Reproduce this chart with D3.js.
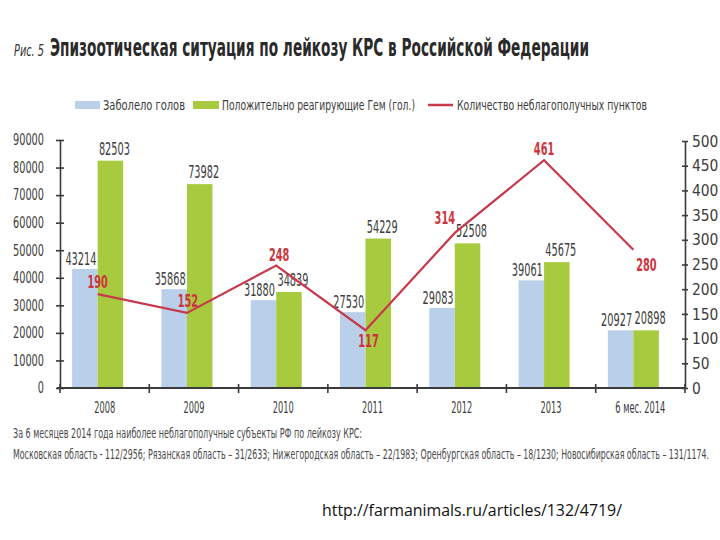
<!DOCTYPE html>
<html><head><meta charset="utf-8">
<script src="https://cdn.jsdelivr.net/npm/d3@7"></script>
<style>body{margin:0;background:#fff}svg{display:block}</style>
</head><body>
<script>
// ---- data ----
const categories = ["2008","2009","2010","2011","2012","2013","6 мес. 2014"];
const sick = [43214, 35868, 31880, 27530, 29083, 39061, 20927];
const positive = [82503, 73982, 34839, 54229, 52508, 45675, 20898];
const points = [190, 152, 248, 117, 314, 461, 280];
const leftTicks = [0,10000,20000,30000,40000,50000,60000,70000,80000,90000];
const rightTicks = [0,50,100,150,200,250,300,350,400,450,500];
const seriesNames = ["Заболело голов","Положительно реагирующие Гем (гол.)","Количество неблагополучных пунктов"];
const titlePrefix = "Рис. 5";
const titleText = "Эпизоотическая ситуация по лейкозу КРС в Российской Федерации";
const footer1 = "За 6 месяцев 2014 года наиболее неблагополучные субъекты РФ по лейкозу КРС:";
const footer2 = "Московская область - 112/2956; Рязанская область – 31/2633; Нижегородская область – 22/1983; Оренбургская область – 18/1230; Новосибирская область – 131/1174.";
const sourceUrl = "http://farmanimals.ru/articles/132/4719/";

// ---- layout (styling only) ----
const W = 720, H = 540;
const FONT = "'Liberation Sans Narrow','Arial Narrow','DejaVu Sans Condensed',sans-serif";
const BLUE = "#bad0ea", GREEN = "#a7ca3e", RED = "#c63a4c", RED_T = "#cc3440", AX = "#3a3a3a", TXT = "#3c3c3c";
const lineLabelOffsets = [[0,-6],[1,-6],[3,-4],[3,17],[-10,-9],[0,-5],[13,21]];

const svg = d3.select("body").append("svg").attr("width", W).attr("height", H)
  .style("font-family", FONT);

function fit(sel, w){ return sel.attr("textLength", w).attr("lengthAdjust","spacingAndGlyphs"); }

// title
fit(svg.append("text").attr("x",14).attr("y",56).attr("font-size",16).attr("font-style","italic")
  .attr("fill","#333").text(titlePrefix), 30);
fit(svg.append("text").attr("x",50).attr("y",56).attr("font-size",24).attr("font-weight","bold")
  .attr("fill","#2a2a2a").text(titleText), 539);

// legend
svg.append("rect").attr("x",75).attr("y",101).attr("width",25).attr("height",8).attr("fill",BLUE);
fit(svg.append("text").attr("x",103).attr("y",110).attr("font-size",14).attr("fill",TXT).text(seriesNames[0]),82);
svg.append("rect").attr("x",193).attr("y",101).attr("width",26).attr("height",8).attr("fill",GREEN);
fit(svg.append("text").attr("x",222).attr("y",110).attr("font-size",14).attr("fill",TXT).text(seriesNames[1]),193);
svg.append("line").attr("x1",428).attr("x2",453).attr("y1",105).attr("y2",105).attr("stroke",RED).attr("stroke-width",2.5);
fit(svg.append("text").attr("x",457).attr("y",110).attr("font-size",14).attr("fill",TXT).text(seriesNames[2]),190);

// scales
const x = d3.scaleBand().domain(categories).range([60,685]);
const yL = d3.scaleLinear().domain([0,90000]).range([388,140]);
const yR = d3.scaleLinear().domain([0,500]).range([388,141]);
const barW = 25.5, pairShift = -7;
const cx = c => x(c) + x.bandwidth()/2 + pairShift;

// bars
const g = svg.append("g");
g.selectAll(".b1").data(categories).join("rect")
  .attr("x", c => cx(c) - barW).attr("width", barW)
  .attr("y", (c,i) => yL(sick[i])).attr("height", (c,i) => yL(0) - yL(sick[i])).attr("fill", BLUE);
g.selectAll(".b2").data(categories).join("rect")
  .attr("x", c => cx(c)).attr("width", barW)
  .attr("y", (c,i) => yL(positive[i])).attr("height", (c,i) => yL(0) - yL(positive[i])).attr("fill", GREEN);

// bar value labels
g.selectAll(".l1").data(categories).join("text")
  .attr("x", c => cx(c) - barW/2 - 4).attr("y", (c,i) => yL(sick[i]) - 4)
  .attr("text-anchor","middle").attr("font-size",17).attr("fill",TXT)
  .text((c,i) => sick[i]).each(function(){ fit(d3.select(this), this.textContent.length*6.2); });
g.selectAll(".l2").data(categories).join("text")
  .attr("x", c => cx(c) + barW/2 + 4).attr("y", (c,i) => yL(positive[i]) - 6)
  .attr("text-anchor","middle").attr("font-size",17).attr("fill",TXT)
  .text((c,i) => positive[i]).each(function(){ fit(d3.select(this), this.textContent.length*6.2); });

// line
const line = d3.line().x((d,i) => cx(categories[i])).y(d => yR(d));
svg.append("path").datum(points).attr("d", line).attr("fill","none")
  .attr("stroke",RED).attr("stroke-width",2.2).attr("stroke-linejoin","miter");
svg.selectAll(".pl").data(points).join("text")
  .attr("x",(d,i) => cx(categories[i]) + lineLabelOffsets[i][0])
  .attr("y",(d,i) => yR(d) + lineLabelOffsets[i][1])
  .attr("text-anchor","middle").attr("font-size",17).attr("font-weight","bold").attr("fill",RED_T)
  .text(d => d).each(function(){ fit(d3.select(this), this.textContent.length*6.8); });

// left axis
const axL = svg.append("g").attr("transform","translate(60,0)")
  .call(d3.axisLeft(yL).tickValues(leftTicks).tickSize(4).tickSizeOuter(0).tickPadding(12).tickFormat(d => String(d)));
axL.select(".domain").attr("stroke",AX).attr("stroke-width",1.6);
axL.selectAll(".tick line").attr("x1",4).attr("x2",-4).attr("stroke",AX).attr("stroke-width",1.6);
axL.selectAll(".tick text").attr("font-size",15).attr("fill",TXT).style("font-family",FONT)
  .each(function(){ fit(d3.select(this), this.textContent.length*6.2); });

// right axis
const axR = svg.append("g").attr("transform","translate(685,0)")
  .call(d3.axisRight(yR).tickValues(rightTicks).tickSize(4).tickSizeOuter(0).tickPadding(3).tickFormat(d => String(d)));
axR.select(".domain").attr("stroke",AX).attr("stroke-width",1.6);
axR.selectAll(".tick line").attr("x1",-3).attr("x2",3).attr("stroke",AX).attr("stroke-width",1.6);
axR.selectAll(".tick text").attr("font-size",16).attr("fill",TXT).style("font-family",FONT)
  .each(function(){ fit(d3.select(this), this.textContent.length*8.8); });

// bottom axis
const axB = svg.append("g").attr("transform","translate(0,388)")
  .call(d3.axisBottom(x).tickSize(0).tickPadding(14));
axB.select(".domain").attr("stroke",AX).attr("stroke-width",2.2).attr("d","M57,0H686");
axB.selectAll(".tick text").attr("font-size",15).attr("fill",TXT).style("font-family",FONT)
  .each(function(){ const t=this.textContent; fit(d3.select(this), t.length===4 ? 21 : 50); });
const bounds = categories.map(c => x(c)).concat([x.range()[1]]);
axB.selectAll(".sep").data(bounds).join("line")
  .attr("x1", d => d).attr("x2", d => d).attr("y1",-4).attr("y2",5)
  .attr("stroke",AX).attr("stroke-width",1.6);

// footer
fit(svg.append("text").attr("x",13).attr("y",438).attr("font-size",14).attr("fill","#4a4a4a").text(footer1),349);
fit(svg.append("text").attr("x",13).attr("y",459).attr("font-size",14).attr("fill","#4a4a4a").text(footer2),696);

// source
fit(svg.append("text").attr("x",322).attr("y",516).attr("font-size",17).attr("fill","#111")
  .style("font-family","'Open Sans','Liberation Sans',sans-serif").text(sourceUrl),300);
</script>
</body></html>
